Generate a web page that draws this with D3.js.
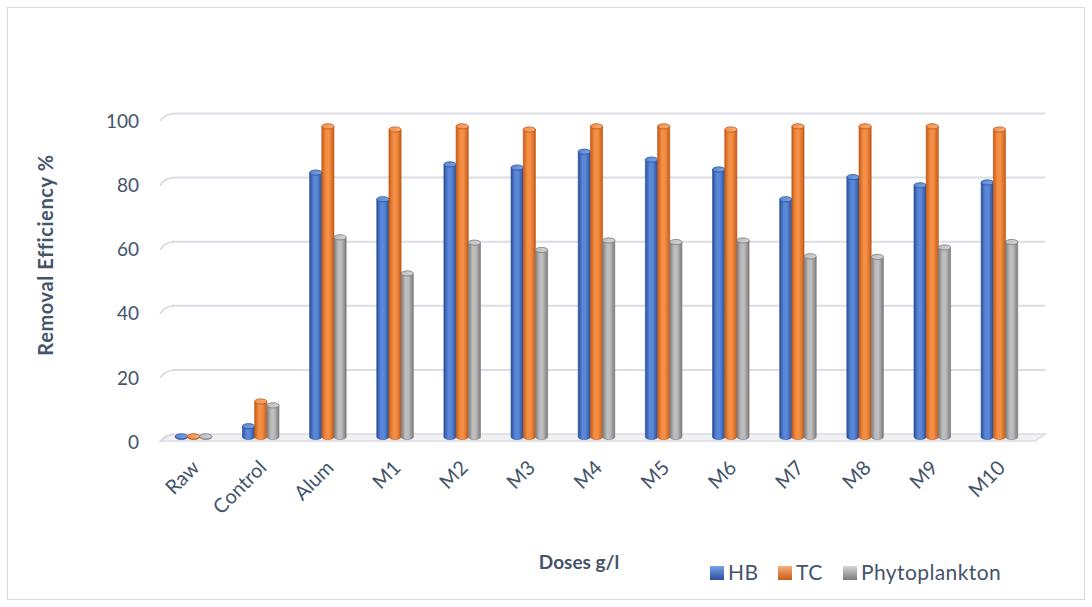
<!DOCTYPE html>
<html>
<head>
<meta charset="utf-8">
<script src="https://cdnjs.cloudflare.com/ajax/libs/d3/7.8.5/d3.min.js"></script>
<style>
  html, body { margin: 0; padding: 0; background: #ffffff; }
  svg { display: block; font-family: Lato, "Open Sans", sans-serif; }
</style>
</head>
<body>
<svg id="chart" width="1092" height="607"></svg>
<script>
// Removal efficiency (%) per treatment
const categories = ["Raw", "Control", "Alum", "M1", "M2", "M3", "M4", "M5", "M6", "M7", "M8", "M9", "M10"];
const seriesNames = ["HB", "TC", "Phytoplankton"];
const hbValues    = [0.2, 3.4, 83.4, 75, 86, 85, 90, 87.5, 84.4, 75, 82, 79.4, 80.3];
const tcValues    = [0.2, 11.2, 98, 97, 98, 97, 98, 98, 97, 98, 98, 98, 97];
const phytoValues = [0.2, 10, 63, 51.6, 61.3, 59, 62, 61.5, 62, 57, 56.8, 59.8, 61.5];
const yTicks = [0, 20, 40, 60, 80, 100];

const seriesValues = [hbValues, tcValues, phytoValues];
const palette = [
  { edge: "#2a4f9c", mid: "#5a88d8", light: "#7aa0e4", stroke: "#2c4f91" },
  { edge: "#c65d18", mid: "#f58f45", light: "#f8ae78", stroke: "#b5561a" },
  { edge: "#7b7b7b", mid: "#bdbdbd", light: "#d4d4d4", stroke: "#7a7a7a" }
];
const textColor = "#44546a";

const svg = d3.select("#chart");
const defs = svg.append("defs");

// Outer frame
svg.append("rect")
  .attr("x", 7.5).attr("y", 7.5)
  .attr("width", 1077).attr("height", 592)
  .attr("fill", "#fff").attr("stroke", "#d9d9d9").attr("stroke-width", 1);

// Scales: front plane for bars, back wall for gridlines
const x = d3.scaleBand().domain(categories).range([160, 1033]).paddingInner(0).paddingOuter(0);
const yFront = d3.scaleLinear().domain([0, 100]).range([437, 120]);
const yWall = d3.scaleLinear().domain([0, 100]).range([434, 113.5]);
const wallLeft = 172, wallRight = 1045, sideLeft = 160, depthDrop = 8;

// Cylinder gradients
palette.forEach((p, i) => {
  const g = defs.append("linearGradient").attr("id", "cyl" + i)
    .attr("x1", "0%").attr("x2", "100%").attr("y1", "0%").attr("y2", "0%");
  g.append("stop").attr("offset", "0%").attr("stop-color", p.edge);
  g.append("stop").attr("offset", "35%").attr("stop-color", p.mid);
  g.append("stop").attr("offset", "60%").attr("stop-color", p.mid);
  g.append("stop").attr("offset", "100%").attr("stop-color", p.edge);
  const c = defs.append("linearGradient").attr("id", "cap" + i)
    .attr("x1", "0%").attr("x2", "100%");
  c.append("stop").attr("offset", "0%").attr("stop-color", p.mid);
  c.append("stop").attr("offset", "100%").attr("stop-color", p.light);
  const l = defs.append("linearGradient").attr("id", "leg" + i)
    .attr("x1", "0%").attr("x2", "0%").attr("y1", "0%").attr("y2", "100%");
  l.append("stop").attr("offset", "0%").attr("stop-color", p.light);
  l.append("stop").attr("offset", "100%").attr("stop-color", p.edge);
});

// Floor
svg.append("path")
  .attr("d", `M${wallLeft},${yWall(0)} L${wallRight},${yWall(0)} L${wallRight - 10},${yWall(0) + 7} L${sideLeft},${yWall(0) + 7} Z`)
  .attr("fill", "#f1f1f4").attr("stroke", "#dcdce4").attr("stroke-width", 1.5);

// Gridlines on the back wall plus the side-wall slant
const grid = svg.append("g");
yTicks.forEach(t => {
  if (t > 0) {
    grid.append("line")
      .attr("x1", wallLeft).attr("x2", wallRight)
      .attr("y1", yWall(t)).attr("y2", yWall(t))
      .attr("stroke", "#dcdce6").attr("stroke-width", 2);
  }
  grid.append("path")
    .attr("d", `M${sideLeft},${yWall(t) + depthDrop} Q${sideLeft + 4},${yWall(t) + 1} ${wallLeft + 2},${yWall(t)}`)
    .attr("fill", "none").attr("stroke", "#d6d6de").attr("stroke-width", 1.5);
});

// Y tick labels
svg.append("g").selectAll("text").data(yTicks).join("text")
  .attr("x", 139).attr("y", d => yWall(d) + depthDrop)
  .attr("dy", "0.35em")
  .attr("text-anchor", "end")
  .attr("fill", textColor)
  .attr("font-size", 19)
  .text(d => d);

// Bars as cylinders
const barW = 12.2;
const clusterW = barW * 3;
const ry = 2.6;
const bars = svg.append("g");
categories.forEach((cat, ci) => {
  const cx0 = x(cat) + x.bandwidth() / 2 - clusterW / 2;
  seriesValues.forEach((vals, si) => {
    const v = vals[ci];
    const bx = cx0 + si * barW;
    const top = yFront(v);
    const base = yFront(0);
    const g = bars.append("g");
    g.append("path")
      .attr("d", `M${bx},${top} L${bx},${base} A${barW / 2},${ry} 0 0 0 ${bx + barW},${base} L${bx + barW},${top} Z`)
      .attr("fill", `url(#cyl${si})`)
      .attr("stroke", palette[si].stroke).attr("stroke-width", 0.6);
    g.append("ellipse")
      .attr("cx", bx + barW / 2).attr("cy", top)
      .attr("rx", barW / 2).attr("ry", ry)
      .attr("fill", `url(#cap${si})`)
      .attr("stroke", palette[si].stroke).attr("stroke-width", 0.8);
  });
});

// Category labels
svg.append("g").selectAll("text").data(categories).join("text")
  .attr("transform", d => `translate(${x(d) + x.bandwidth() / 2 + 7},${469}) rotate(-45)`)
  .attr("text-anchor", "end")
  .attr("fill", textColor)
  .attr("font-size", 20)
  .text(d => d);

// Axis titles
svg.append("text")
  .attr("transform", "translate(53,255) rotate(-90)")
  .attr("text-anchor", "middle")
  .attr("fill", textColor)
  .attr("font-size", 20).attr("font-weight", "bold")
  .attr("letter-spacing", 0.6)
  .text("Removal Efficiency %");

svg.append("text")
  .attr("x", 579).attr("y", 569)
  .attr("text-anchor", "middle")
  .attr("fill", textColor)
  .attr("font-size", 19).attr("font-weight", "bold")
  .text("Doses g/l");

// Legend
const legendX = [710, 778, 843];
const legend = svg.append("g");
seriesNames.forEach((name, i) => {
  legend.append("rect")
    .attr("x", legendX[i]).attr("y", 566)
    .attr("width", 14).attr("height", 14)
    .attr("fill", `url(#leg${i})`);
  legend.append("text")
    .attr("x", legendX[i] + 18).attr("y", 573)
    .attr("dy", "0.35em")
    .attr("fill", textColor)
    .attr("font-size", 21)
    .attr("letter-spacing", 0.4)
    .text(name);
});
</script>
</body>
</html>
